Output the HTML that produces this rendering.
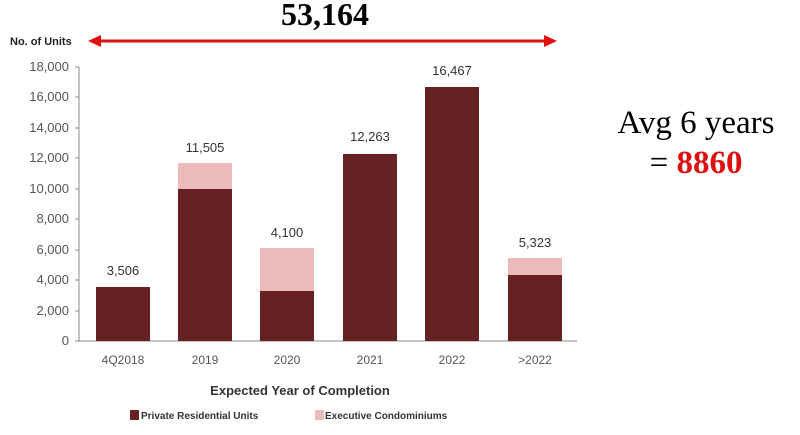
<!DOCTYPE html>
<html><head><meta charset="utf-8"><style>body{margin:0;background:#fff}</style></head><body>
<svg width="800" height="430" xmlns="http://www.w3.org/2000/svg" font-family="Liberation Sans, sans-serif">
<rect width="800" height="430" fill="#fff"/>
<text x="325" y="25" font-family="Liberation Serif, serif" font-weight="bold" font-size="32" text-anchor="middle" fill="#000">53,164</text>
<text x="10" y="45" font-size="11" font-weight="bold" fill="#222">No. of Units</text>
<line x1="100" y1="41" x2="545" y2="41" stroke="#e01010" stroke-width="3"/>
<polygon points="88,41 101,35 101,47" fill="#e01010"/>
<polygon points="557,41 544,35 544,47" fill="#e01010"/>
<g font-size="13" fill="#555" text-anchor="end">
<text x="69" y="71">18,000</text><text x="69" y="101">16,000</text><text x="69" y="132">14,000</text>
<text x="69" y="162">12,000</text><text x="69" y="193">10,000</text><text x="69" y="223">8,000</text>
<text x="69" y="254">6,000</text><text x="69" y="284">4,000</text><text x="69" y="315">2,000</text><text x="69" y="345">0</text>
</g>
<g stroke="#888" stroke-width="1">
<line x1="79" y1="67" x2="79" y2="341"/>
<line x1="75" y1="67" x2="79" y2="67"/><line x1="75" y1="97" x2="79" y2="97"/><line x1="75" y1="128" x2="79" y2="128"/>
<line x1="75" y1="158" x2="79" y2="158"/><line x1="75" y1="189" x2="79" y2="189"/><line x1="75" y1="219" x2="79" y2="219"/>
<line x1="75" y1="250" x2="79" y2="250"/><line x1="75" y1="280" x2="79" y2="280"/><line x1="75" y1="311" x2="79" y2="311"/>
<line x1="75" y1="341" x2="577" y2="341"/>
</g>
<g fill="#662222">
<rect x="96" y="287" width="54" height="54"/>
<rect x="178" y="189" width="54" height="152"/>
<rect x="260" y="291" width="54" height="50"/>
<rect x="343" y="154" width="54" height="187"/>
<rect x="425" y="87" width="54" height="254"/>
<rect x="508" y="275" width="54" height="66"/>
</g>
<g fill="#ebbaba">
<rect x="178" y="163" width="54" height="26"/>
<rect x="260" y="248" width="54" height="43"/>
<rect x="508" y="258" width="54" height="17"/>
</g>
<g font-size="13" fill="#333" text-anchor="middle">
<text x="123" y="275">3,506</text><text x="205" y="152">11,505</text><text x="287" y="237">4,100</text>
<text x="370" y="141">12,263</text><text x="452" y="75">16,467</text><text x="535" y="247">5,323</text>
</g>
<g font-size="12" fill="#555" text-anchor="middle">
<text x="123" y="364">4Q2018</text><text x="205" y="364">2019</text><text x="287" y="364">2020</text>
<text x="370" y="364">2021</text><text x="452" y="364">2022</text><text x="535" y="364">&gt;2022</text>
</g>
<text x="300" y="395" font-size="13" font-weight="bold" fill="#333" text-anchor="middle">Expected Year of Completion</text>
<rect x="130" y="410" width="9" height="10" fill="#662222"/>
<text x="141" y="419" font-size="10" font-weight="bold" fill="#333">Private Residential Units</text>
<rect x="315" y="410" width="9" height="10" fill="#ebbaba"/>
<text x="325" y="419" font-size="10" font-weight="bold" fill="#333">Executive Condominiums</text>
<text x="696" y="133" font-family="Liberation Serif, serif" font-size="33" text-anchor="middle" fill="#000">Avg 6 years</text>
<text x="696" y="173" font-family="Liberation Serif, serif" font-size="33" text-anchor="middle" fill="#000">= <tspan fill="#dd1111" font-weight="bold">8860</tspan></text>
</svg>
</body></html>
